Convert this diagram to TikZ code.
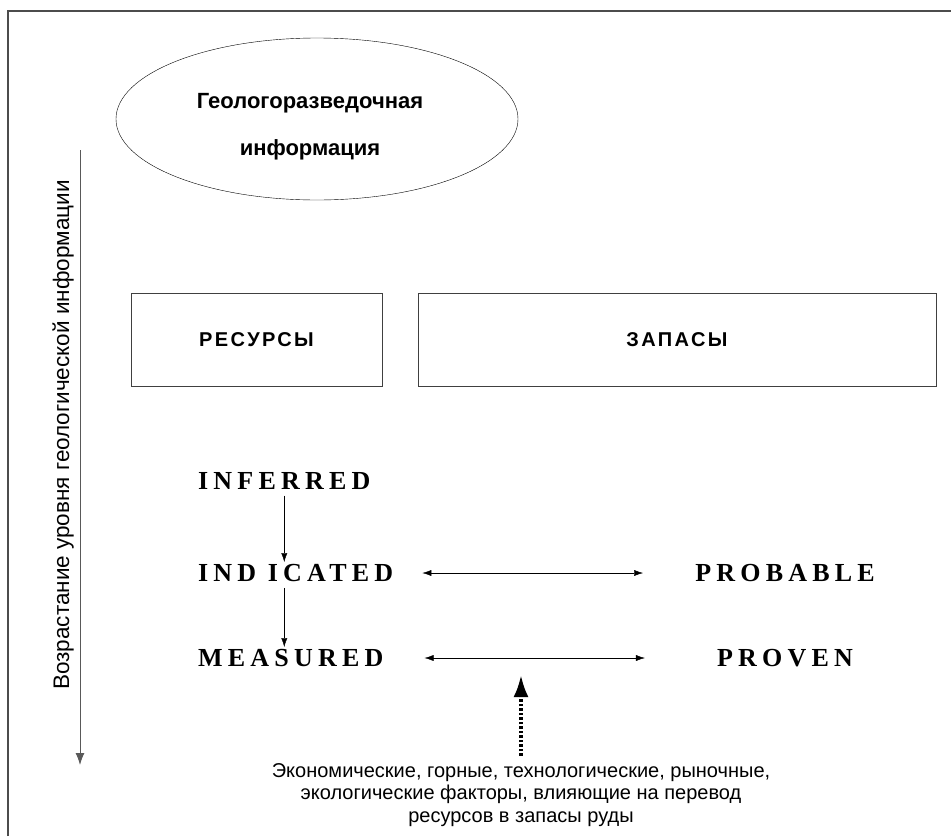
\documentclass[tikz,border=0pt]{standalone}
\usepackage{fontspec}
\setmainfont{Liberation Sans}
\newfontfamily\gradefont[LetterSpace=20]{Liberation Serif}
\newfontfamily\spacedfont[LetterSpace=12]{Liberation Sans}
\usetikzlibrary{arrows.meta}
\usetikzlibrary{shapes.geometric}
\usetikzlibrary{positioning}
\tikzset{grade/.style={font=\gradefont\bfseries\fontsize{26}{26}\selectfont,inner sep=2pt}}
\tikzset{cls/.style={draw=black!75,minimum height=93pt,font=\spacedfont\bfseries\fontsize{20}{20}\selectfont}}
\tikzset{txt/.style={font=\fontsize{20}{22.5}\selectfont,align=center}}

\begin{document}
\begin{tikzpicture}[x=1pt,y=-1pt,>={Latex[length=9pt,width=6pt]}]
    \useasboundingbox (0,0) rectangle (951,836);
    \draw[black!70,line width=1.2pt] (8,836)--(8,11)--(951,11);
    % source of the data
    \node[draw,ellipse,minimum width=402pt,minimum height=162pt] (info) at (317,119) {};
    \node[align=center,font=\bfseries\fontsize{22}{47}\selectfont] (infotext) at (310,127)
          {Геологоразведочная\\информация};
    % level axis
    \coordinate (lvtop) at (80,150);
    \coordinate (lvbot) at (80,765);
    \draw[-{Latex[length=12pt,width=9pt]},black!65,line width=1pt] (lvtop)--(lvbot);
    \node[rotate=90,font=\fontsize{22.5}{22.5}\selectfont] (level) at (63,435)
          {Возрастание уровня геологической информации};
    % the two classes
    \node[cls,minimum width=251pt] (res) at (256.5,339.5) {РЕСУРСЫ};
    \node[cls,minimum width=518pt] (zap) at (677,339.5) {ЗАПАСЫ};
    % categories
    \node[grade,anchor=west] (inferred) at (196,481) {INFERRED};
    \node[grade,anchor=west] (indicated) at (196,573) {IND ICATED};
    \node[grade,anchor=west] (measured) at (196,658) {MEASURED};
    \node[grade] (probable) at (785,573) {PROBABLE};
    \node[grade] (proven) at (785,658) {PROVEN};
    \draw[->] (inferred.south) ++(0,4) -- (inferred.south |- indicated.north);
    \draw[->] (indicated.south -| inferred.south) ++(0,4) -- (inferred.south |- measured.north);
    \draw[<->,shorten <=27pt,shorten >=50pt] (indicated.east) -- (probable.west);
    \draw[<->,shorten <=39pt,shorten >=70pt] (measured.east) -- (proven.west);
    % factors
    \node[txt] (factors) at (521,795)
          {Экономические, горные, технологические, рыночные,\\
           экологические факторы, влияющие на перевод\\
           ресурсов в запасы руды};
    \coordinate (push) at (521,675);
    \draw[-{Latex[length=22pt,width=15pt]},line width=3.5pt,dash pattern=on 2.5pt off 2pt,
          shorten <=4pt] (factors.north) -- (push);
\end{tikzpicture}
\end{document}
